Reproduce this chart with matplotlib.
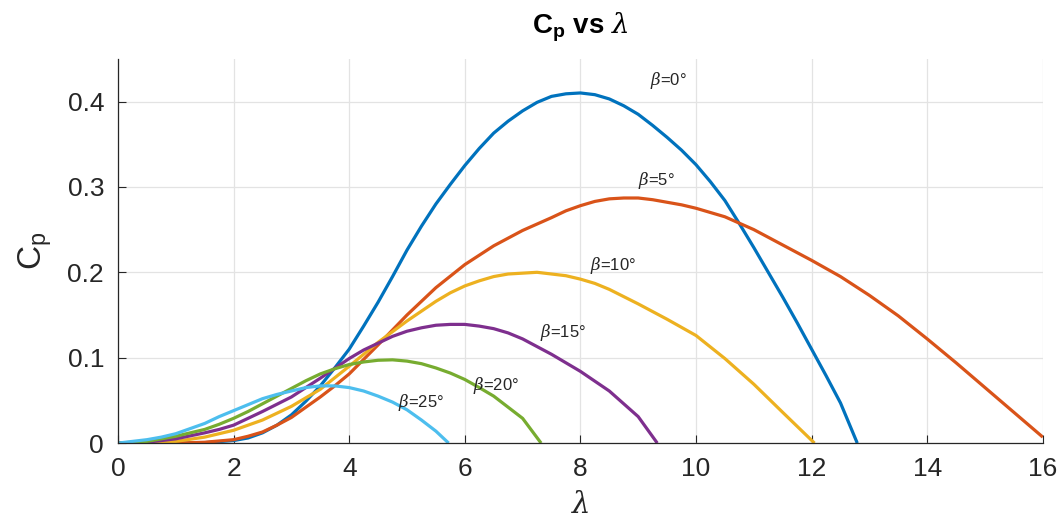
import matplotlib
matplotlib.use("Agg")
import matplotlib.pyplot as plt

# values
lam0 = [0, 0.5, 1, 1.5, 2, 2.25, 2.5, 2.75, 3, 3.25, 3.5, 3.75, 4, 4.25, 4.5,
        4.75, 5, 5.25, 5.5, 5.75, 6, 6.25, 6.5, 6.75, 7, 7.25, 7.5, 7.75, 8,
        8.25, 8.5, 8.75, 9, 9.25, 9.5, 9.75, 10, 10.25, 10.5, 10.75, 11,
        11.25, 11.5, 11.75, 12, 12.25, 12.5, 12.79]
cp0 = [0, 0, 0, 0.0005, 0.003, 0.006, 0.012, 0.021, 0.033, 0.049, 0.067,
       0.088, 0.11, 0.137, 0.165, 0.195, 0.226, 0.254, 0.28, 0.303, 0.325,
       0.345, 0.363, 0.377, 0.389, 0.399, 0.406, 0.409, 0.410, 0.408, 0.403,
       0.395, 0.385, 0.372, 0.358, 0.343, 0.326, 0.306, 0.284, 0.257, 0.229,
       0.2, 0.171, 0.141, 0.11, 0.079, 0.047, 0]

lam5 = [0, 0.5, 1, 1.5, 2, 2.25, 2.5, 2.75, 3, 3.25, 3.5, 3.75, 4, 4.5, 5,
        5.5, 6, 6.5, 7, 7.5, 7.75, 8, 8.25, 8.5, 8.75, 9, 9.25, 9.5, 9.75, 10,
        10.5, 11, 11.5, 12, 12.5, 13, 13.5, 14, 14.5, 15, 15.5, 16]
cp5 = [0, 0, 0, 0.001, 0.004, 0.008, 0.013, 0.021, 0.03, 0.042, 0.054, 0.067,
       0.081, 0.115, 0.15, 0.182, 0.209, 0.231, 0.249, 0.264, 0.272, 0.278,
       0.283, 0.286, 0.287, 0.287, 0.285, 0.282, 0.279, 0.275, 0.265, 0.25,
       0.232, 0.214, 0.195, 0.173, 0.149, 0.122, 0.094, 0.065, 0.036, 0.007]

lam10 = [0, 0.5, 1, 1.5, 1.75, 2, 2.25, 2.5, 3, 3.5, 4, 4.5, 5, 5.5, 5.75, 6,
         6.25, 6.5, 6.75, 7, 7.25, 7.5, 7.75, 8, 8.25, 8.5, 9, 9.5, 10, 10.5,
         11, 11.5, 12.05]
cp10 = [0, 0.0005, 0.002, 0.007, 0.011, 0.015, 0.021, 0.027, 0.043, 0.063,
        0.09, 0.118, 0.143, 0.166, 0.176, 0.184, 0.19, 0.195, 0.198, 0.199,
        0.2, 0.198, 0.196, 0.192, 0.187, 0.18, 0.163, 0.145, 0.126, 0.099,
        0.069, 0.036, 0]

lam15 = [0, 0.5, 1, 1.5, 1.75, 2, 2.25, 2.5, 3, 3.5, 4, 4.25, 4.5, 4.75, 5,
         5.25, 5.5, 5.75, 6, 6.25, 6.5, 6.75, 7, 7.5, 8, 8.5, 9, 9.33]
cp15 = [0, 0.001, 0.005, 0.012, 0.016, 0.021, 0.029, 0.037, 0.054, 0.076,
        0.099, 0.109, 0.117, 0.125, 0.131, 0.135, 0.138, 0.139, 0.139, 0.137,
        0.134, 0.129, 0.122, 0.104, 0.084, 0.061, 0.031, 0]

lam20 = [0, 0.5, 1, 1.25, 1.5, 1.75, 2, 2.25, 2.5, 2.75, 3, 3.25, 3.5, 3.75,
         4, 4.25, 4.5, 4.75, 5, 5.25, 5.5, 5.75, 6, 6.25, 6.5, 7, 7.32]
cp20 = [0, 0.002, 0.008, 0.012, 0.016, 0.022, 0.029, 0.037, 0.046, 0.055,
        0.064, 0.073, 0.081, 0.087, 0.092, 0.095, 0.097, 0.0975, 0.096, 0.093,
        0.088, 0.082, 0.0745, 0.065, 0.055, 0.029, 0]

lam25 = [0, 0.5, 0.75, 1, 1.25, 1.5, 1.75, 2, 2.5, 2.75, 3, 3.25, 3.5, 3.75,
         4, 4.25, 4.5, 4.75, 5, 5.25, 5.5, 5.72]
cp25 = [0, 0.004, 0.007, 0.011, 0.017, 0.023, 0.031, 0.038, 0.052, 0.057,
        0.061, 0.065, 0.067, 0.067, 0.065, 0.061, 0.055, 0.048, 0.039, 0.027,
        0.014, 0]

betas = [0, 5, 10, 15, 20, 25]
xticks = [0, 2, 4, 6, 8, 10, 12, 14, 16]
yticks = [0, 0.1, 0.2, 0.3, 0.4]

colors = ["#0072BD", "#D95319", "#EDB120", "#7E2F8E", "#77AC30", "#4DBEEE"]
# where each beta label sits (data coords, left/middle anchored)
label_pos = [(9.2, 0.425), (9.0, 0.308), (8.17, 0.208), (7.3, 0.130),
             (6.15, 0.068), (4.85, 0.047)]

plt.rcParams["font.family"] = ["Liberation Sans Narrow", "Liberation Sans", "DejaVu Sans"]
plt.rcParams["mathtext.fontset"] = "custom"
plt.rcParams["mathtext.rm"] = "Liberation Sans"
plt.rcParams["mathtext.bf"] = "Liberation Sans:bold"
plt.rcParams["mathtext.it"] = "DejaVu Serif:italic"

fig = plt.figure(figsize=(10.63, 5.25), dpi=100)
ax = fig.add_axes([0.111, 0.156, 0.870, 0.732])

curves = [(lam0, cp0), (lam5, cp5), (lam10, cp10), (lam15, cp15),
          (lam20, cp20), (lam25, cp25)]
for (lx, cy), c in zip(curves, colors):
    ax.plot(lx, cy, color=c, lw=2.3, solid_capstyle="butt", solid_joinstyle="round")

for b, (tx, ty) in zip(betas, label_pos):
    ax.text(tx, ty, r"$\beta$=%d°" % b, fontsize=12, ha="left", va="center",
            color="#262626")

ax.set_xlim(0, 16)
ax.set_ylim(0, 0.45)
ax.set_xticks(xticks)
ax.set_yticks(yticks)
ax.set_yticklabels(["0", "0.1", "0.2", "0.3", "0.4"])
ax.tick_params(direction="in", length=6, width=0.8, colors="#262626",
               labelsize=19, pad=10)
ax.grid(True, color="#e3e3e3", lw=0.9)
ax.set_axisbelow(True)
for s in ["top", "right"]:
    ax.spines[s].set_visible(False)
for s in ["left", "bottom"]:
    ax.spines[s].set_color("#262626")
    ax.spines[s].set_linewidth(0.9)

ax.set_xlabel(r"$\lambda$", fontsize=21, color="#262626", labelpad=7)
ax.set_ylabel(r"$\mathregular{C_p}$", fontsize=24, color="#262626", labelpad=10)
ax.set_title(r"$\mathbf{C_p}$ vs $\lambda$", fontsize=20, fontweight="bold",
             color="black", pad=18)

fig.savefig("out.png", dpi=100)
